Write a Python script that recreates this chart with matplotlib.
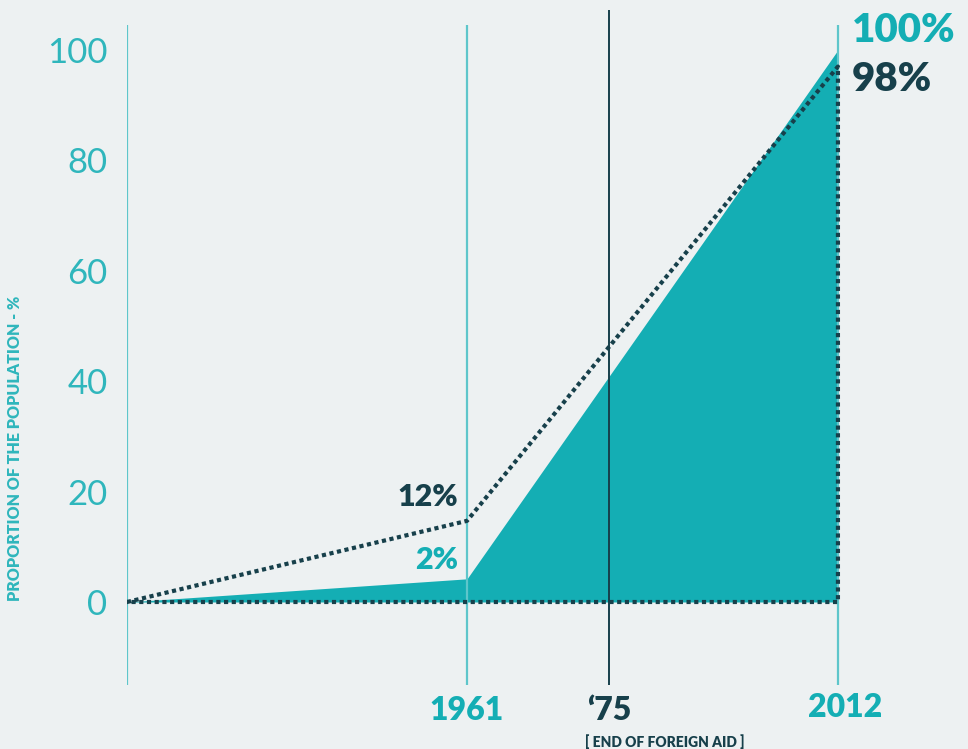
import matplotlib
matplotlib.use('Agg')
import matplotlib.pyplot as plt

# stops along the time axis (spacing is not to scale in the original)
stop_labels = ['', '1961', '\u201875', '2012']
stop_pos = [0.0, 1.0, 1.418, 2.091]

# shaded series (teal area) and dotted series, read at start / 1961 / 2012
area_x = [0.0, 1.0, 2.091]
area_vals = [0, 4.2, 100]
dotted_vals = [0, 14.7, 97]
area_labels = ['2%', '100%']
dotted_labels = ['12%', '98%']

yticks = [0, 20, 40, 60, 80, 100]

BG = '#edf1f2'
TEAL = '#14aeb4'
TEAL_LINE = '#5ec6cb'
DARK = '#17404b'

W, H = 968, 749
fig = plt.figure(figsize=(W / 100, H / 100), dpi=100, facecolor=BG)
left_px = 127
ax = fig.add_axes([left_px / W, 0, (W - left_px) / W, 1])
ax.set_facecolor(BG)

px_per_x = 340.0
px_per_y = 5.52
zero_px = 602
ax.set_xlim(0, (W - left_px) / px_per_x)
ax.set_ylim((zero_px - H) / px_per_y, zero_px / px_per_y)

for s in ax.spines.values():
    s.set_visible(False)

# filled area
ax.fill_between(area_x, 0, area_vals, color=TEAL, lw=0, zorder=2)

# vertical guide lines
for i, x in enumerate(stop_pos):
    if i == 2:
        ax.vlines(x, -15, 107.2, color=DARK, lw=1.4, zorder=3)
    else:
        ax.vlines(x, -15, 104.5, color=TEAL_LINE, lw=1.6, zorder=3)

# dotted outline
dx = area_x + [area_x[-1], area_x[0]]
dy = dotted_vals + [0, 0]
ax.plot(dx, dy, color=DARK, lw=3.0, linestyle=(0, (1.0, 0.85)),
        dash_capstyle='butt', zorder=4)

# y ticks
ax.set_yticks(yticks)
ax.set_yticklabels([str(t) for t in yticks])
ax.tick_params(axis='y', length=0, pad=14, labelsize=25, labelcolor='#2fb6bc')
for lab in ax.get_yticklabels():
    lab.set_fontfamily('Lato')
ax.set_xticks([])

ax.set_ylabel('PROPORTION OF THE POPULATION - %', fontsize=11.5, fontweight='heavy',
              color='#2fb6bc', family='Lato')
ax.yaxis.set_label_coords(-0.124, 0.402)

# bottom stop labels
bold = dict(family='Lato', fontweight='heavy')
ax.text(stop_pos[1], -19.7, stop_labels[1], color=TEAL, fontsize=23, ha='center',
        va='center', **bold)
ax.text(stop_pos[2], -19.7, stop_labels[2], color=DARK, fontsize=23, ha='center',
        va='center', **bold)
ax.text(stop_pos[3] + 0.02, -19.2, stop_labels[3], color=TEAL, fontsize=23, ha='center',
        va='center', **bold)
ax.text(stop_pos[2] - 0.07, -25.3, '[ END OF FOREIGN AID ]', color=DARK, fontsize=10,
        ha='left', va='center', **bold)

# value annotations
ax.text(stop_pos[1] - 0.027, 19, dotted_labels[0], color=DARK, fontsize=22,
        ha='right', va='center', **bold)
ax.text(stop_pos[1] - 0.027, 7.6, area_labels[0], color=TEAL, fontsize=22,
        ha='right', va='center', **bold)
ax.text(stop_pos[3] + 0.04, 103.6, area_labels[1], color=TEAL, fontsize=29,
        ha='left', va='center', clip_on=False, **bold)
ax.text(stop_pos[3] + 0.04, 94.7, dotted_labels[1], color=DARK, fontsize=29,
        ha='left', va='center', clip_on=False, **bold)

fig.savefig('out.png', dpi=100, facecolor=BG)
